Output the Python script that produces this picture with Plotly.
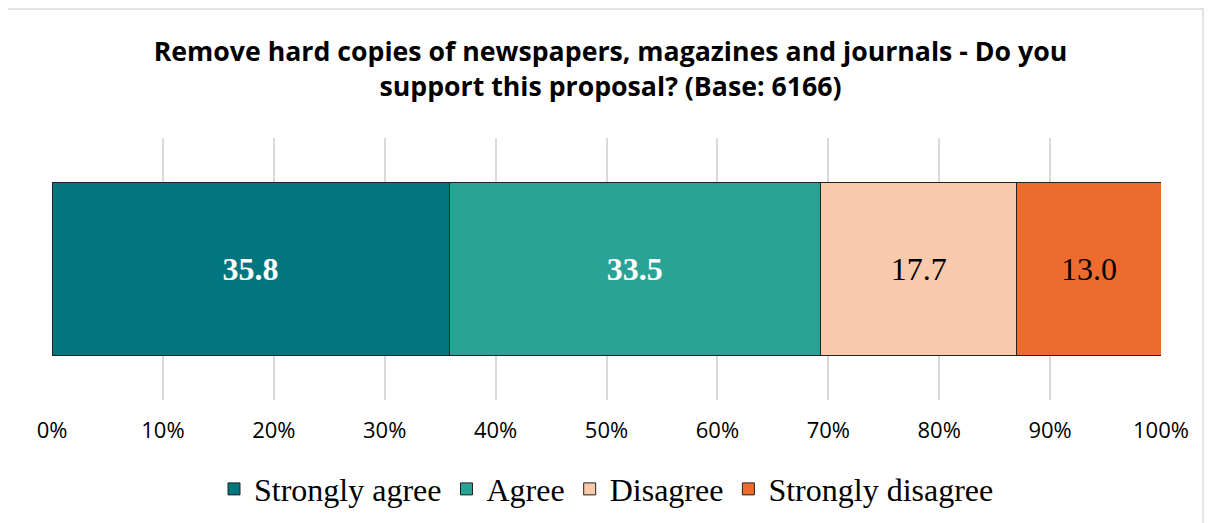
import plotly.graph_objects as go

categories = ["Strongly agree", "Agree", "Disagree", "Strongly disagree"]
values = [35.8, 33.5, 17.7, 13.0]
colors = ["#02767F", "#2AA397", "#F8C9AA", "#EC6B2D"]
label_colors = ["white", "white", "black", "black"]
label_bold = [True, True, False, False]
tick_vals = [0, 10, 20, 30, 40, 50, 60, 70, 80, 90, 100]
tick_text = [f"{v}%" for v in tick_vals]
title = "Remove hard copies of newspapers, magazines and journals - Do you<br>support this proposal? (Base: 6166)"

fig = go.Figure()
for cat, val, col, lc, b in zip(categories, values, colors, label_colors, label_bold):
    txt = f"<b>{val:.1f}</b>" if b else f"{val:.1f}"
    fig.add_trace(go.Bar(
        x=[val], y=["q"], orientation="h", name=cat,
        marker=dict(color=col, line=dict(color="#222222", width=1)),
        text=[txt], textposition="inside", insidetextanchor="middle",
        textfont=dict(family="Liberation Serif", size=32, color=lc),
        hoverinfo="skip",
    ))

fig.update_layout(
    barmode="stack",
    bargap=0.336,
    width=1205, height=520,
    margin=dict(l=44, r=52, t=130, b=128),
    paper_bgcolor="white", plot_bgcolor="white",
    title=dict(text=title, x=0.5, xanchor="center", y=0.898, yanchor="top",
               font=dict(family="Open Sans", size=26.7, color="black", weight="bold")),
    xaxis=dict(range=[0, 100], tickvals=tick_vals, ticktext=tick_text,
               showgrid=True, gridcolor="#D9D9D9", gridwidth=2, zeroline=False,
               showline=False, ticks="", ticklabelstandoff=15,
               tickfont=dict(family="Open Sans", size=22, color="black")),
    yaxis=dict(showticklabels=False, showgrid=False, zeroline=False, range=[-0.5, 0.5]),
    legend=dict(orientation="h", x=0.5, xanchor="center", y=-0.34, yanchor="middle",
                font=dict(family="Liberation Serif", size=32, color="black"),
                traceorder="normal", itemwidth=30),
    showlegend=True,
)
fig.add_shape(type="rect", xref="paper", yref="paper",
              x0=-0.0415, x1=1.0379, y0=-0.55, y1=1.492,
              line=dict(color="#D9D9D9", width=1.5), fillcolor="rgba(0,0,0,0)", layer="below")

fig.write_html("out.html")
